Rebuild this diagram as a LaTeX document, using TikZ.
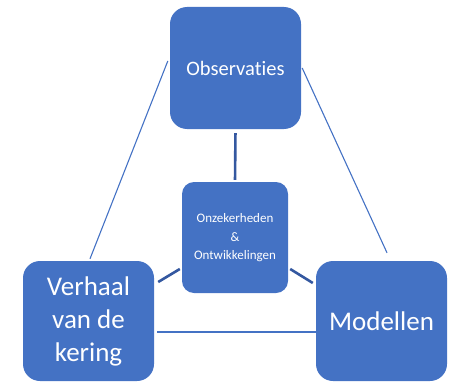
\documentclass[tikz,border=0pt]{standalone}
\usepackage{fontspec}
\setmainfont[Ligatures=NoCommon]{Carlito}
\usetikzlibrary{calc,positioning}
\definecolor{boxblue}{RGB}{68,114,196}
\definecolor{linkblue}{RGB}{52,88,160}

\begin{document}
\begin{tikzpicture}[x=1pt,y=1pt,
  pillar/.style={fill=boxblue,rounded corners=17pt,text=white,align=center,
    minimum width=131pt,minimum height=120pt,inner sep=0pt},
  core/.style={fill=boxblue,rounded corners=12pt,text=white,align=center,
    minimum width=106pt,minimum height=111pt,inner sep=0pt},
  thin link/.style={boxblue,line width=1.1pt},
  thick link/.style={linkblue,line width=2.6pt}]
\useasboundingbox (0,0) rectangle (449,381);
\node[pillar,minimum height=122pt,font=\fontsize{20.5}{24}\selectfont] (obs) at (235.5,313) {Observaties};
\node[core,font=\fontsize{13}{17.5}\selectfont] (unc) at (235,143.5) {Onzekerheden\\[2pt]\&\\Ontwikkelingen};
\node[pillar,font=\fontsize{27}{33}\selectfont] (story) at (88.5,60) {Verhaal\\van de\\kering};
\node[pillar,font=\fontsize{27}{33}\selectfont] (models) at (381.5,60) {Modellen};
% outer triangle
\draw[thin link] ([shift={(-2,7)}]obs.west) -- ([shift={(1.5,2)}]story.north);
\draw[thin link] ([xshift=1pt]obs.east) -- ([shift={(5.5,8)}]models.north);
\draw[thin link] ([shift={(3,-11)}]story.east) -- ([yshift=-11pt]models.west);
% spokes to the centre
\draw[thick link,shorten <=4pt,shorten >=2pt] (obs.south) -- (unc.north);
\draw[thick link] ([shift={(-2,-31.5)}]unc.west) -- ([shift={(4,39)}]story.east);
\draw[thick link] ([shift={(2,-31.5)}]unc.east) -- ([shift={(-3,38)}]models.west);
\end{tikzpicture}
\end{document}
